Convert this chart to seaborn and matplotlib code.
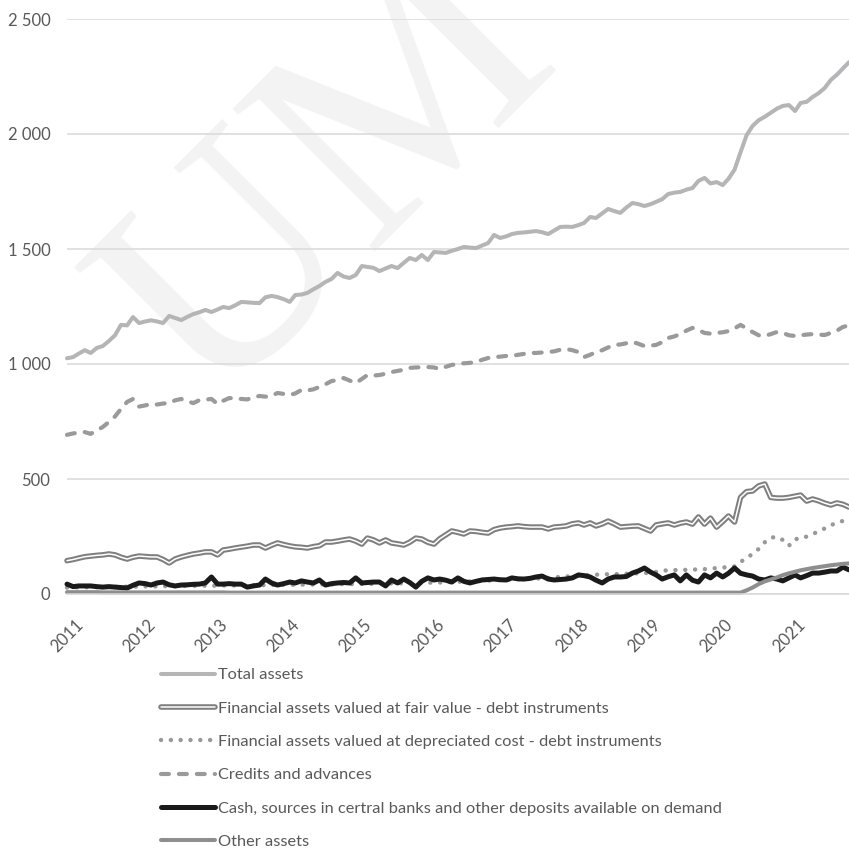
import matplotlib
matplotlib.use('Agg')
import matplotlib.pyplot as plt
import matplotlib.patheffects as pe
import matplotlib.dates as mdates
from matplotlib.ticker import FuncFormatter
import pandas as pd
import seaborn as sns

# monthly data, Jan 2011 - Nov 2021
dates = pd.date_range('2011-01-01', periods=131, freq='MS')

total_assets = [
    1025, 1030, 1045, 1060, 1048, 1070, 1078, 1100, 1125, 1170, 1168, 1204,
    1178, 1185, 1190, 1185, 1178, 1209, 1200, 1191, 1205, 1217, 1225, 1235,
    1226, 1237, 1248, 1243, 1255, 1270, 1268, 1266, 1265, 1290, 1296, 1291,
    1282, 1270, 1300, 1302, 1309, 1325, 1339, 1357, 1370, 1396, 1380, 1374,
    1387, 1426, 1422, 1418, 1404, 1415, 1426, 1417, 1440, 1461, 1452, 1474,
    1452, 1487, 1485, 1483, 1492, 1500, 1509, 1506, 1504, 1515, 1526, 1561,
    1548, 1555, 1565, 1570, 1572, 1575, 1578, 1573, 1565, 1580, 1596, 1597,
    1596, 1604, 1613, 1639, 1635, 1655, 1674, 1665, 1657, 1680, 1700, 1695,
    1687, 1695, 1705, 1717, 1739, 1745, 1748, 1758, 1765, 1796, 1809, 1785,
    1791, 1778, 1805, 1845, 1920, 1995, 2035, 2060, 2075, 2092, 2110, 2122,
    2126, 2100, 2135, 2140, 2161, 2178, 2200, 2235, 2258, 2285, 2312,
]

fair_value = [
    145, 150, 156, 162, 165, 168, 170, 174, 170, 160, 152, 160,
    165, 163, 161, 161, 150, 135, 152, 161, 168, 174, 178, 183,
    183, 170, 191, 195, 200, 204, 208, 213, 213, 200, 212, 222,
    215, 209, 205, 203, 200, 206, 210, 226, 226, 230, 235, 239,
    230, 217, 243, 235, 222, 235, 222, 218, 213, 225, 243, 239,
    225, 217, 240, 257, 274, 268, 261, 274, 272, 268, 265, 280,
    287, 291, 293, 296, 293, 291, 291, 291, 283, 291, 293, 296,
    305, 309, 300, 309, 296, 305, 317, 305, 291, 293, 295, 296,
    285, 274, 300, 305, 309, 300, 308, 313, 304, 335, 304, 330,
    291, 315, 339, 313, 420, 445, 448, 470, 478, 420, 417, 417,
    420, 425, 430, 404, 413, 405, 395, 387, 396, 390, 378,
]

dep_cost = [
    28, 28, 29, 29, 30, 30, 30, 31, 31, 31, 32, 32,
    32, 33, 33, 33, 34, 34, 34, 35, 35, 35, 36, 36,
    36, 36, 37, 37, 37, 38, 38, 38, 38, 39, 39, 39,
    40, 40, 40, 41, 41, 41, 42, 42, 42, 43, 43, 43,
    43, 44, 44, 44, 45, 45, 46, 46, 47, 47, 48, 48,
    49, 50, 50, 51, 52, 53, 54, 55, 56, 57, 58, 60,
    61, 62, 63, 64, 65, 66, 67, 68, 70, 72, 74, 76,
    78, 80, 82, 83, 84, 85, 86, 86, 87, 88, 89, 90,
    91, 93, 96, 100, 104, 104, 104, 105, 106, 107, 108, 110,
    113, 115, 117, 120, 140, 155, 175, 196, 225, 245, 248, 235,
    210, 239, 240, 250, 261, 272, 285, 300, 308, 318, 330,
]

credits = [
    692, 698, 702, 704, 696, 712, 726, 748, 772, 805, 835, 848,
    815, 820, 826, 824, 828, 830, 842, 848, 838, 830, 843, 845,
    848, 826, 840, 852, 850, 848, 846, 855, 861, 858, 861, 874,
    870, 865, 872, 887, 885, 890, 900, 912, 926, 930, 939, 928,
    917, 935, 952, 950, 952, 958, 965, 970, 975, 983, 985, 986,
    987, 985, 978, 988, 996, 1000, 1003, 1005, 1009, 1018, 1026, 1030,
    1032, 1035, 1035, 1040, 1044, 1048, 1048, 1050, 1052, 1055, 1062, 1065,
    1060, 1052, 1030, 1040, 1052, 1060, 1072, 1083, 1085, 1090, 1096, 1088,
    1078, 1080, 1083, 1095, 1113, 1120, 1130, 1145, 1157, 1148, 1135, 1132,
    1135, 1138, 1143, 1155, 1170, 1155, 1139, 1125, 1122, 1130, 1139, 1135,
    1125, 1122, 1125, 1128, 1130, 1128, 1126, 1135, 1145, 1161, 1168,
]

cash = [
    43, 32, 35, 35, 35, 32, 30, 32, 30, 28, 26, 38,
    48, 45, 39, 48, 52, 40, 35, 39, 40, 42, 43, 48,
    74, 43, 43, 45, 43, 43, 30, 35, 39, 65, 48, 39,
    45, 52, 48, 57, 52, 48, 61, 39, 45, 48, 50, 48,
    70, 48, 50, 52, 52, 35, 61, 48, 65, 50, 30, 55,
    70, 61, 65, 60, 52, 70, 55, 48, 55, 61, 63, 65,
    62, 61, 70, 66, 65, 68, 74, 78, 65, 61, 63, 65,
    70, 83, 80, 74, 60, 48, 65, 74, 74, 76, 91, 100,
    113, 95, 83, 65, 75, 83, 57, 83, 60, 52, 83, 70,
    91, 74, 90, 113, 90, 83, 78, 65, 61, 70, 65, 57,
    70, 83, 70, 80, 91, 91, 95, 100, 100, 117, 105,
]

other_assets = [
    8, 8, 8, 8, 8, 8, 7, 7, 7, 7, 7, 7,
    7, 7, 7, 7, 7, 7, 7, 7, 7, 7, 7, 7,
    7, 7, 7, 6, 6, 6, 6, 6, 6, 6, 6, 6,
    6, 6, 6, 6, 6, 6, 6, 6, 6, 6, 6, 6,
    6, 6, 6, 6, 6, 6, 6, 6, 6, 6, 6, 6,
    6, 6, 6, 6, 6, 6, 6, 6, 6, 6, 6, 6,
    6, 6, 6, 6, 6, 6, 6, 6, 6, 6, 6, 6,
    6, 6, 6, 6, 6, 6, 6, 6, 6, 6, 6, 6,
    6, 6, 6, 6, 6, 6, 6, 6, 6, 6, 6, 6,
    6, 6, 6, 6, 6, 16, 28, 43, 55, 63, 72, 82,
    90, 97, 103, 108, 113, 117, 121, 125, 128, 131, 133,
]

labels = [
    'Total assets',
    'Financial assets valued at fair value - debt instruments',
    'Financial assets valued at depreciated cost - debt instruments',
    'Credits and advances',
    'Cash, sources in certral banks and other deposits available on demand',
    'Other assets',
]
series = [total_assets, fair_value, dep_cost, credits, cash, other_assets]

styles = [
    dict(color='#b5b5b7', lw=2.9),
    dict(color='white', lw=1.1,
         path_effects=[pe.Stroke(linewidth=4.0, foreground='#7f7f7f'), pe.Normal()]),
    dict(color='#999999', lw=3.2, linestyle=(0, (0.01, 2.2)), dash_capstyle='round'),
    dict(color='#9a9a9c', lw=3.0, linestyle=(0, (1.9, 2.4)), dash_capstyle='round'),
    dict(color='#1a1a1a', lw=3.6),
    dict(color='#8e8e8e', lw=2.9),
]

sns.set_style('white')
plt.rcParams['font.family'] = ['Lato', 'DejaVu Sans']

fig = plt.figure(figsize=(8.49, 8.51), dpi=100)
ax = fig.add_axes([67 / 849, 1 - 594 / 851, 782 / 849, 575 / 851])
ax.set_facecolor('none')

# faint watermark behind the chart
fig.text(210 / 849, 1 - 410 / 851, 'UM', fontsize=222, family='Liberation Serif',
         color='#f3f3f3', rotation=45, rotation_mode='anchor',
         ha='left', va='baseline', zorder=-1)

for vals, lab, st in zip(series, labels, styles):
    sns.lineplot(x=dates, y=vals, ax=ax, label=lab, clip_on=False, **st)

ax.set_xlim(dates[0], dates[-1])
ax.set_ylim(0, 2500)
ax.set_yticks([0, 500, 1000, 1500, 2000, 2500])
ax.yaxis.set_major_formatter(FuncFormatter(lambda v, p: f'{int(v):,}'.replace(',', ' ')))
ax.xaxis.set_major_locator(mdates.YearLocator())
ax.xaxis.set_major_formatter(mdates.DateFormatter('%Y'))
ax.set_xlabel('')
ax.set_ylabel('')

ax.grid(axis='y', color='#d9d9d9', lw=1.1)
ax.grid(axis='x', visible=False)
for s in ['left', 'right', 'top']:
    ax.spines[s].set_visible(False)
ax.spines['bottom'].set_color('#d9d9d9')
ax.spines['bottom'].set_linewidth(1.1)

ax.tick_params(axis='y', length=0, pad=12, labelsize=12, labelcolor='#595959')
ax.tick_params(axis='x', direction='in', length=4, color='#d9d9d9', pad=16,
               labelsize=12, labelcolor='#595959', labelrotation=45)
plt.setp(ax.get_xticklabels(), ha='center')

ax.legend(loc='upper left', bbox_to_anchor=(161 / 849, 1 - 668 / 851),
          bbox_transform=fig.transFigure, frameon=False, borderpad=0,
          borderaxespad=0, handlelength=3.3, handletextpad=0.2,
          labelspacing=1.16, fontsize=11.75, labelcolor='#595959')

fig.savefig('out.png', dpi=100)
